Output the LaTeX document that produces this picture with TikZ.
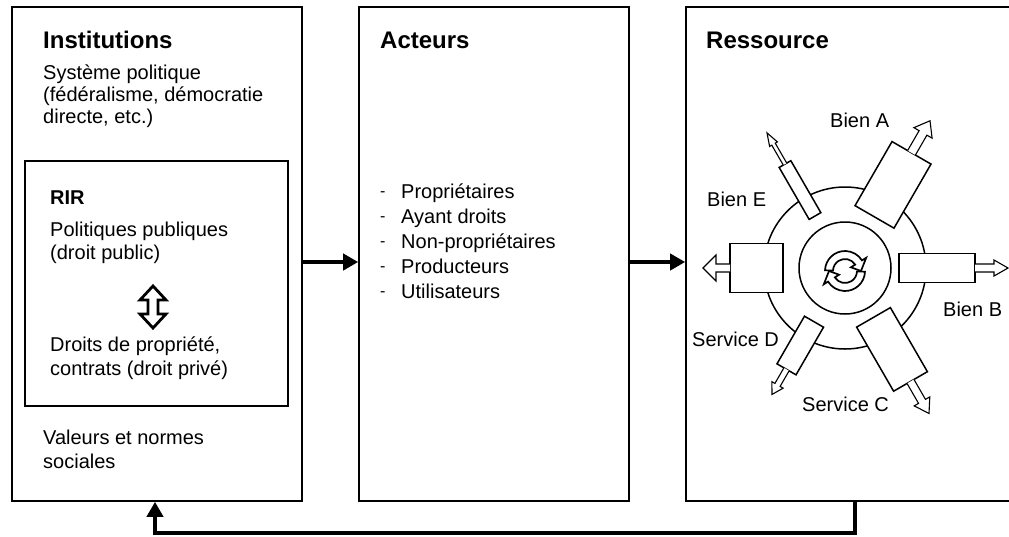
\documentclass[tikz,border=0pt]{standalone}
\usepackage{fontspec}
\setmainfont{Liberation Sans}
\usetikzlibrary{arrows.meta}
\begin{document}
\begin{tikzpicture}[x=1pt,y=-1pt,
  box/.style={draw, line width=1.6pt, rectangle, inner sep=0pt},
  txt/.style={anchor=base west, inner sep=0pt, font=\fontsize{20}{22}\selectfont},
  ttl/.style={anchor=base west, inner sep=0pt, font=\fontsize{24}{26}\selectfont\bfseries},
  flow/.style={line width=4pt, -{Triangle[length=15pt,width=16pt]}},
  blk/.style={draw, fill=white, line width=1.5pt},
  arr/.style={draw, fill=white, line width=1.1pt, line join=miter},
]
\useasboundingbox (0,0) rectangle (1009,536);
\clip (0,0) rectangle (1009,536);

% main boxes
\node[box, minimum width=290pt, minimum height=494pt] (inst) at (157,254) {};
\node[box, minimum width=270pt, minimum height=494pt] (act) at (494,254) {};
\node[box, minimum width=340pt, minimum height=494pt] (res) at (856,254) {};
\node[box, line width=2pt, minimum width=263pt, minimum height=245pt] (rir) at (156.5,283.5) {};

% flows
\draw[flow] ([yshift=-8pt]inst.east) -- ([yshift=-8pt]act.west);
\draw[flow] ([yshift=-8pt]act.east) -- ([yshift=-8pt]res.west);
\coordinate (fbR) at (855,533);
\coordinate (fbL) at (155,533);
\draw[flow, line join=miter] (res.south -| fbR) -- (fbR) -- (fbL) -- (inst.south -| fbL);

% Institutions texts
\node[ttl] (tInst) at (43,48) {Institutions};
\node[txt] (i1) at (43,79) {Système politique};
\node[txt] (i2) at (43,101) {(fédéralisme, démocratie};
\node[txt] (i3) at (43,123) {directe, etc.)};
\node[anchor=base west, inner sep=0pt, font=\fontsize{20}{22}\selectfont\bfseries] (tRir) at (50,204) {RIR};
\node[txt] (r1) at (50,236) {Politiques publiques};
\node[txt] (r2) at (50,259) {(droit public)};
\node[txt] (r3) at (50,351) {Droits de propriété,};
\node[txt] (r4) at (50,375) {contrats (droit privé)};
\node[txt] (v1) at (43,444) {Valeurs et normes};
\node[txt] (v2) at (43,468) {sociales};

% double arrow
\draw[line width=2.8pt, fill=white, line join=miter] (153,307) ++(0,-21) -- ++(13,14) -- ++(-8,0) -- ++(0,14) -- ++(8,0)
  -- ++(-13,14) -- ++(-13,-14) -- ++(8,0) -- ++(0,-14) -- ++(-8,0) -- cycle;

% Acteurs
\node[ttl] (tAct) at (380,48) {Acteurs};
\foreach \yy/\tt [count=\i] in {198/Propriétaires, 223/Ayant droits, 248/Non-propriétaires, 273/Producteurs, 298/Utilisateurs}{
  \node[txt, font=\fontsize{16}{18}\selectfont] (d\i) at (380,\yy-2) {-};
  \node[txt] (a\i) at (401,\yy) {\tt};
}

% Ressource
\node[ttl] (tRes) at (706,48) {Ressource};

\begin{scope}[shift={(845,268)}, yscale=-1]
  \draw[line width=1.5pt] (0,0) circle[radius=81];
  \draw[line width=1.5pt] (0,0) circle[radius=46];
  \foreach \ang/\rA/\rB/\wB/\rC/\sW/\hW/\hL in {0/54/130/29/163/8/16/14, 60/57/131/39/168/8/18/14, 120/62/117/22/146/6/13/11, 180/62/115/49/142/8/26/13, 240/60/120/13.5/156/4/9/13, 300/59/133/45/170/9/21/14}{
    \begin{scope}[rotate=\ang]
      \draw[blk] (\rA,-\wB/2) rectangle (\rB,\wB/2);
      \draw[arr] (\rB,-\sW/2) -- (\rC-\hL,-\sW/2) -- (\rC-\hL,-\hW/2) -- (\rC,0) -- (\rC-\hL,\hW/2) -- (\rC-\hL,\sW/2) -- (\rB,\sW/2);
    \end{scope}
  }
\end{scope}

\begin{scope}[shift={(845,271)}, yscale=-1]
  \foreach \rr in {0,180}{
    \draw[rotate=\rr, line width=1.7pt, fill=white, line join=miter]
      (178:20) arc[start angle=178, end angle=32, radius=20] -- (32:25) -- (0:16) -- (32:7) -- (32:12)
      arc[start angle=32, end angle=178, radius=12] -- cycle;
  }
\end{scope}

\node[txt] (lA) at (830,127) {Bien A};
\node[txt] (lE) at (707,206) {Bien E};
\node[txt] (lB) at (943,316) {Bien B};
\node[txt] (lD) at (692,346) {Service D};
\node[txt] (lC) at (802,411) {Service C};
\end{tikzpicture}
\end{document}
